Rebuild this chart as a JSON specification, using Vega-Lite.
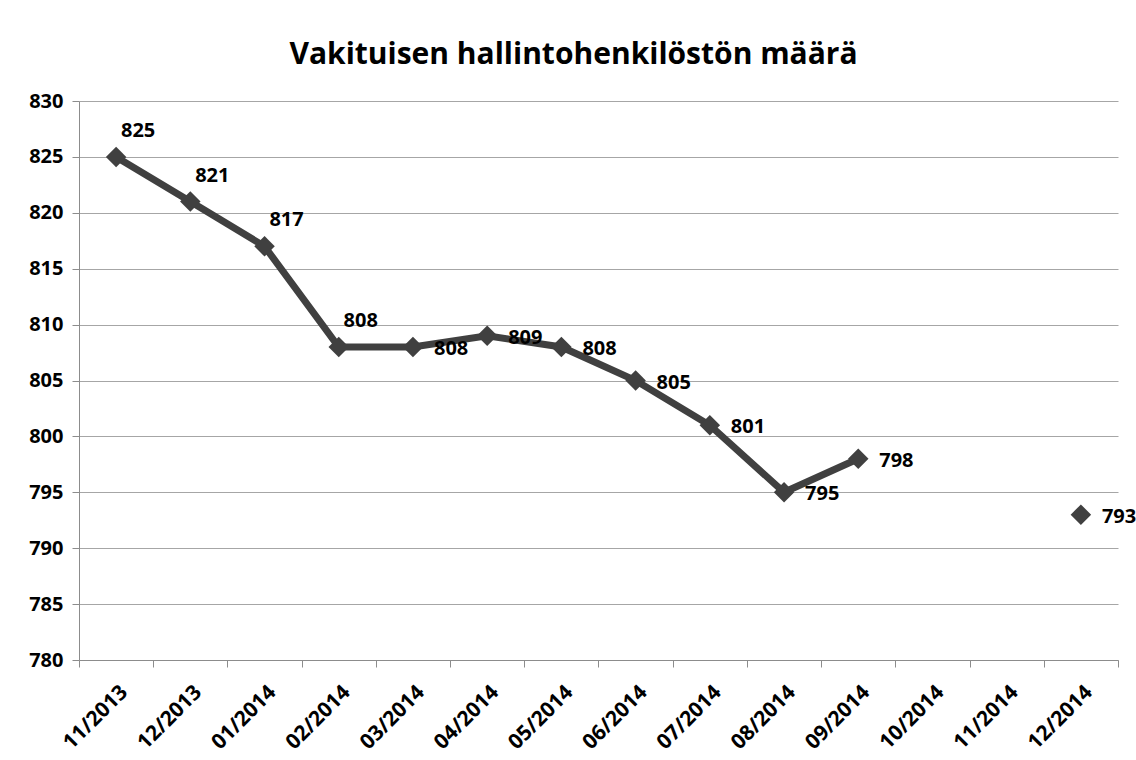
{
  "$schema": "https://vega.github.io/schema/vega-lite/v6.json",
  "width": 1039,
  "height": 559,
  "autosize": {"type": "none"},
  "padding": {"left": 79, "top": 101, "right": 18, "bottom": 100},
  "background": "white",
  "config": {"view": {"stroke": null}},
  "title": {
    "text": "Vakituisen hallintohenkilöstön määrä",
    "font": "Open Sans",
    "fontSize": 30,
    "fontWeight": "bold",
    "color": "black",
    "anchor": "middle",
    "dx": -25,
    "offset": -3,
    "baseline": "alphabetic"
  },
  "data": {
    "values": [
      {"month": "11/2013", "value": 825},
      {"month": "12/2013", "value": 821},
      {"month": "01/2014", "value": 817},
      {"month": "02/2014", "value": 808},
      {"month": "03/2014", "value": 808},
      {"month": "04/2014", "value": 809},
      {"month": "05/2014", "value": 808},
      {"month": "06/2014", "value": 805},
      {"month": "07/2014", "value": 801},
      {"month": "08/2014", "value": 795},
      {"month": "09/2014", "value": 798},
      {"month": "10/2014", "value": null},
      {"month": "11/2014", "value": null},
      {"month": "12/2014", "value": 793}
    ]
  },
  "encoding": {
    "x": {
      "field": "month",
      "type": "ordinal",
      "sort": null,
      "scale": {
        "type": "band",
        "domain": ["11/2013", "12/2013", "01/2014", "02/2014", "03/2014", "04/2014", "05/2014", "06/2014", "07/2014", "08/2014", "09/2014", "10/2014", "11/2014", "12/2014"],
        "paddingInner": 0,
        "paddingOuter": 0
      },
      "axis": {
        "title": null,
        "labelAngle": -45,
        "labelFont": "Open Sans",
        "labelFontSize": 21,
        "labelFontWeight": "bold",
        "labelColor": "black",
        "labelPadding": 14,
        "tickBand": "extent",
        "tickSize": 7,
        "tickColor": "#8c8c8c",
        "domainColor": "#8c8c8c",
        "grid": false
      }
    },
    "y": {
      "field": "value",
      "type": "quantitative",
      "scale": {"domain": [780, 830], "nice": false, "zero": false},
      "axis": {
        "title": null,
        "values": [780, 785, 790, 795, 800, 805, 810, 815, 820, 825, 830],
        "grid": true,
        "gridColor": "#a6a6a6",
        "tickSize": 7,
        "tickColor": "#8c8c8c",
        "domainColor": "#8c8c8c",
        "labelFont": "Open Sans",
        "labelFontSize": 20,
        "labelFontWeight": "bold",
        "labelColor": "black",
        "labelPadding": 9
      }
    }
  },
  "layer": [
    {
      "mark": {"type": "line", "color": "#404040", "strokeWidth": 7, "invalid": "break-paths-show-domains"}
    },
    {
      "mark": {"type": "point", "shape": "diamond", "filled": true, "size": 420, "color": "#404040", "opacity": 1}
    },
    {
      "transform": [{"filter": {"field": "month", "oneOf": ["11/2013", "12/2013", "01/2014", "02/2014"]}}],
      "mark": {"type": "text", "align": "center", "baseline": "middle", "dx": 22, "dy": -26, "font": "Open Sans", "fontSize": 20, "fontWeight": "bold", "color": "black"},
      "encoding": {"text": {"field": "value", "type": "quantitative", "format": "d"}}
    },
    {
      "transform": [{"filter": {"field": "month", "oneOf": ["03/2014", "04/2014", "05/2014", "06/2014", "07/2014", "08/2014", "09/2014", "12/2014"]}}],
      "mark": {"type": "text", "align": "left", "baseline": "middle", "dx": 21, "dy": 2, "font": "Open Sans", "fontSize": 20, "fontWeight": "bold", "color": "black"},
      "encoding": {"text": {"field": "value", "type": "quantitative", "format": "d"}}
    }
  ]
}
